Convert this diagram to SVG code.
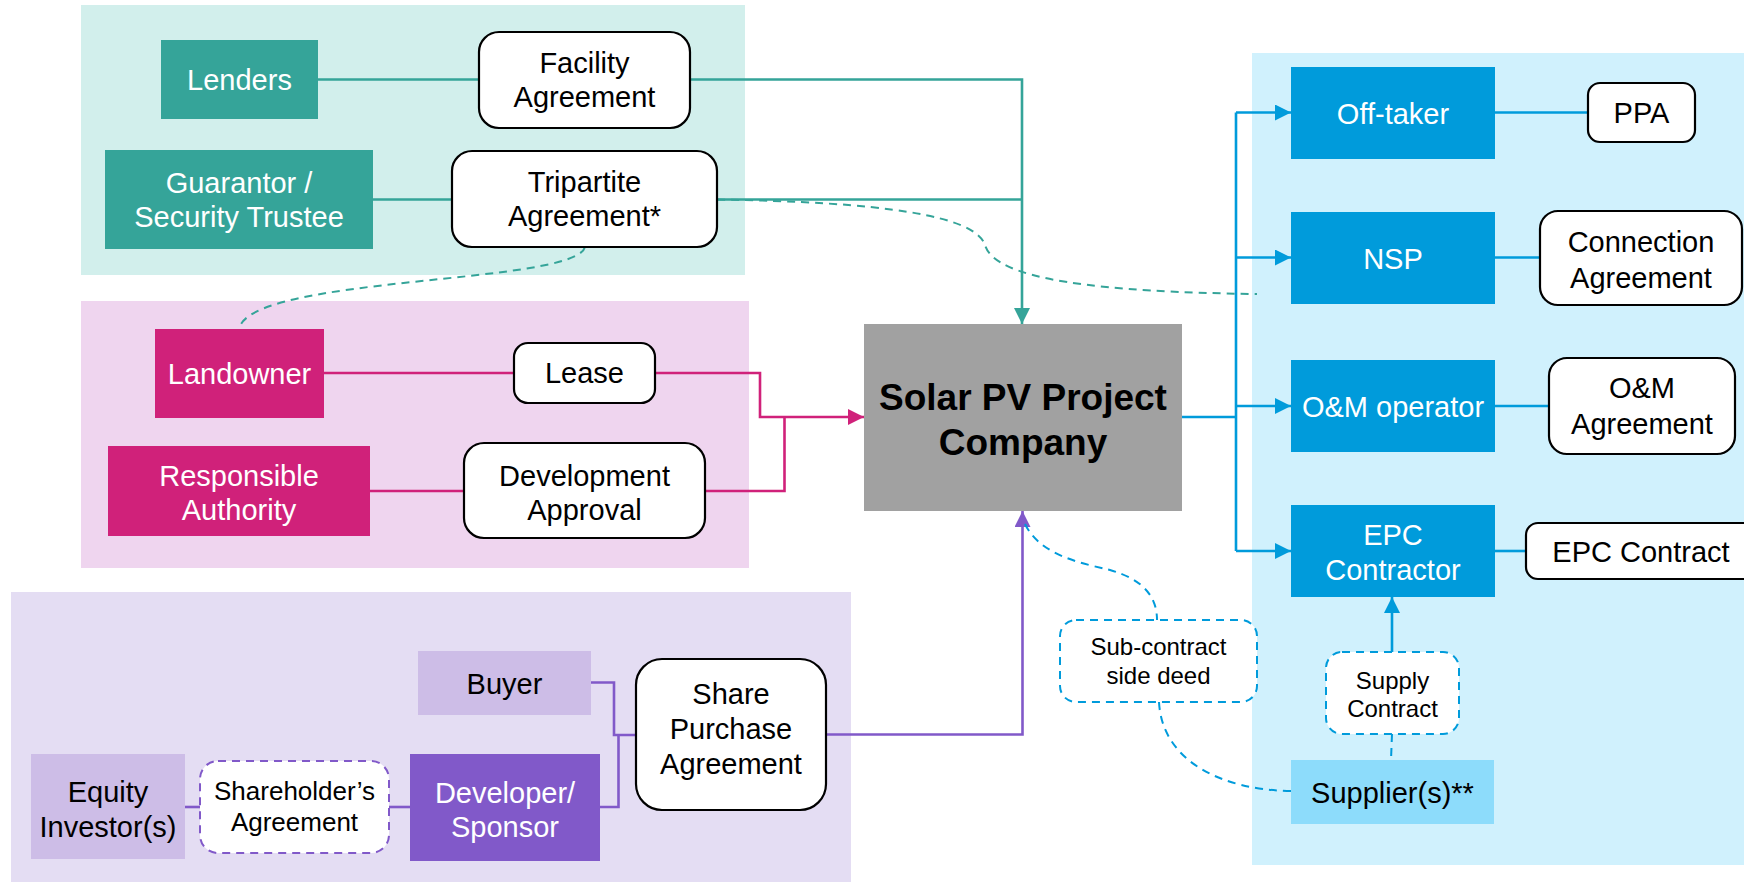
<svg xmlns="http://www.w3.org/2000/svg" width="1744" height="882" viewBox="0 0 1744 882">
<defs>
<style>
text{font-family:"Liberation Sans",Arial,sans-serif;font-size:29px;text-anchor:middle}
.w{fill:#fff}
.k{fill:#000}
.sm{font-size:24px}
.sh{font-size:26px}
.big{font-size:37px;font-weight:bold}
.agr{fill:#fff;stroke:#000;stroke-width:2.2}
.teal{fill:#35A499}
.pink{fill:#D0217A}
.dpur{fill:#8159C9}
.lpur{fill:#CDBDE7}
.blue{fill:#009BDB}
.sup{fill:#8DDCFB}
.ct{fill:none;stroke:#35A499;stroke-width:2.6}
.cp{fill:none;stroke:#D0217A;stroke-width:2.6}
.cu{fill:none;stroke:#8159C9;stroke-width:2.6}
.cb{fill:none;stroke:#009BDB;stroke-width:2.6}
.dash{stroke-dasharray:8 6;stroke-width:2}
</style>
<marker id="aT" markerUnits="userSpaceOnUse" markerWidth="16" markerHeight="16" refX="16" refY="8" orient="auto"><path d="M0,0 L16,8 L0,16 z" fill="#35A499"/></marker>
<marker id="aP" markerUnits="userSpaceOnUse" markerWidth="16" markerHeight="16" refX="16" refY="8" orient="auto"><path d="M0,0 L16,8 L0,16 z" fill="#D0217A"/></marker>
<marker id="aU" markerUnits="userSpaceOnUse" markerWidth="16" markerHeight="16" refX="16" refY="8" orient="auto"><path d="M0,0 L16,8 L0,16 z" fill="#8159C9"/></marker>
<marker id="aB" markerUnits="userSpaceOnUse" markerWidth="16" markerHeight="16" refX="16" refY="8" orient="auto"><path d="M0,0 L16,8 L0,16 z" fill="#009BDB"/></marker>
</defs>

<g id="backgrounds">
<rect x="81" y="5" width="664" height="270" fill="#D2EFEC"/>
<rect x="81" y="301" width="668" height="267" fill="#EFD5EF"/>
<rect x="11" y="592" width="840" height="290" fill="#E4DDF3"/>
<rect x="1252" y="53" width="492" height="812" fill="#D0F1FD"/>
</g>

<g id="connectors">
<path class="ct" d="M318,79.5 H479"/>
<path class="ct" d="M373,199.5 H452"/>
<path class="ct" d="M690,79.5 H1022 V324" marker-end="url(#aT)"/>
<path class="ct" d="M717,199.5 H1022"/>
<path class="ct dash" d="M585,247 C575,285 250,275 239,329"/>
<path class="ct dash" d="M717,199.5 C880,202 975,215 985,245 C995,280 1100,292 1257,294"/>
<path class="cp" d="M324,373 H514"/>
<path class="cp" d="M370,491 H464"/>
<path class="cp" d="M655,373 H760 V417 H864" marker-end="url(#aP)"/>
<path class="cp" d="M705,491 H784.5 V417"/>
<path class="cu" d="M185,807 H200"/>
<path class="cu" d="M389,807 H410"/>
<path class="cu" d="M591,682.5 H614 V735 H636"/>
<path class="cu" d="M600,807 H618.5 V735"/>
<path class="cu" d="M826,734.5 H1022.5 V511" marker-end="url(#aU)"/>
<path class="cb" d="M1182,417 H1236"/>
<path class="cb" d="M1236,551 V112.5"/>
<path class="cb" d="M1236,112.5 H1291" marker-end="url(#aB)"/>
<path class="cb" d="M1236,257.5 H1291" marker-end="url(#aB)"/>
<path class="cb" d="M1236,406 H1291" marker-end="url(#aB)"/>
<path class="cb" d="M1236,551 H1291" marker-end="url(#aB)"/>
<path class="cb" d="M1495,112.5 H1588"/>
<path class="cb" d="M1495,257.5 H1540"/>
<path class="cb" d="M1495,406 H1549"/>
<path class="cb" d="M1495,551 H1526"/>
<path class="cb" d="M1392,652 V597" marker-end="url(#aB)"/>
<path class="cb dash" d="M1392,734 L1391,760"/>
<path class="cb dash" d="M1025,524 C1040,555 1080,563 1110,570 C1145,580 1157,598 1157,620"/>
<path class="cb dash" d="M1159,702 C1162,760 1220,790 1291,791"/>
</g>

<g id="lenders"><rect class="teal" x="161" y="40" width="157" height="79"/><text class="w" x="239.5" y="90">Lenders</text></g>
<g id="facility-agreement"><rect class="agr" x="479" y="32" width="211" height="96" rx="20"/><text class="k" x="584.5" y="73">Facility</text><text class="k" x="584.5" y="107">Agreement</text></g>
<g id="guarantor"><rect class="teal" x="105" y="150" width="268" height="99"/><text class="w" x="239" y="193">Guarantor /</text><text class="w" x="239" y="227">Security Trustee</text></g>
<g id="tripartite-agreement"><rect class="agr" x="452" y="151" width="265" height="96" rx="20"/><text class="k" x="584.5" y="191.5">Tripartite</text><text class="k" x="584.5" y="226">Agreement*</text></g>

<g id="landowner"><rect class="pink" x="155" y="329" width="169" height="89"/><text class="w" x="239.5" y="384">Landowner</text></g>
<g id="lease"><rect class="agr" x="514" y="343" width="141" height="60" rx="14"/><text class="k" x="584.5" y="383">Lease</text></g>
<g id="responsible-authority"><rect class="pink" x="108" y="446" width="262" height="90"/><text class="w" x="239" y="485.5">Responsible</text><text class="w" x="239" y="520">Authority</text></g>
<g id="development-approval"><rect class="agr" x="464" y="443" width="241" height="95" rx="20"/><text class="k" x="584.5" y="485.5">Development</text><text class="k" x="584.5" y="520">Approval</text></g>

<g id="buyer"><rect class="lpur" x="418" y="651" width="173" height="64"/><text class="k" x="504.5" y="693.5">Buyer</text></g>
<g id="equity-investors"><rect class="lpur" x="31" y="754" width="154" height="105"/><text class="k" x="108" y="802">Equity</text><text class="k" x="108" y="836.5">Investor(s)</text></g>
<g id="shareholders-agreement"><rect x="200" y="761" width="189" height="92" rx="18" fill="#fff" stroke="#8159C9" stroke-width="2" stroke-dasharray="8 6"/><text class="k sh" x="294.5" y="800">Shareholder’s</text><text class="k sh" x="294.5" y="831">Agreement</text></g>
<g id="developer-sponsor"><rect class="dpur" x="410" y="754" width="190" height="107"/><text class="w" x="505" y="802.5">Developer/</text><text class="w" x="505" y="837">Sponsor</text></g>
<g id="share-purchase-agreement"><rect class="agr" x="636" y="659" width="190" height="151" rx="26"/><text class="k" x="731" y="703.5">Share</text><text class="k" x="731" y="738.5">Purchase</text><text class="k" x="731" y="773.5">Agreement</text></g>

<g id="company"><rect x="864" y="324" width="318" height="187" fill="#A1A1A1"/><text class="k big" x="1023" y="410">Solar PV Project</text><text class="k big" x="1023" y="455">Company</text></g>

<g id="off-taker"><rect class="blue" x="1291" y="67" width="204" height="92"/><text class="w" x="1393" y="123.5">Off-taker</text></g>
<g id="ppa"><rect class="agr" x="1588" y="83" width="107" height="59" rx="12"/><text class="k" x="1641.5" y="123">PPA</text></g>
<g id="nsp"><rect class="blue" x="1291" y="212" width="204" height="92"/><text class="w" x="1393" y="268.5">NSP</text></g>
<g id="connection-agreement"><rect class="agr" x="1540" y="211" width="202" height="94" rx="18"/><text class="k" x="1641" y="251.5">Connection</text><text class="k" x="1641" y="287.5">Agreement</text></g>
<g id="om-operator"><rect class="blue" x="1291" y="360" width="204" height="92"/><text class="w" x="1393" y="416.5">O&amp;M operator</text></g>
<g id="om-agreement"><rect class="agr" x="1549" y="358" width="186" height="96" rx="18"/><text class="k" x="1642" y="398">O&amp;M</text><text class="k" x="1642" y="434">Agreement</text></g>
<g id="epc-contractor"><rect class="blue" x="1291" y="505" width="204" height="92"/><text class="w" x="1393" y="545">EPC</text><text class="w" x="1393" y="580">Contractor</text></g>
<g id="epc-contract"><rect class="agr" x="1526" y="523" width="240" height="56" rx="12"/><text class="k" x="1641" y="561.5">EPC Contract</text></g>
<g id="sub-contract-side-deed"><rect x="1060" y="620" width="197" height="82" rx="16" fill="#fff" stroke="#009BDB" stroke-width="2" stroke-dasharray="8 6"/><text class="k sm" x="1158.5" y="654.5">Sub-contract</text><text class="k sm" x="1158.5" y="683.5">side deed</text></g>
<g id="supply-contract"><rect x="1326" y="652" width="133" height="82" rx="16" fill="#fff" stroke="#009BDB" stroke-width="2" stroke-dasharray="8 6"/><text class="k sm" x="1392.5" y="689">Supply</text><text class="k sm" x="1392.5" y="717">Contract</text></g>
<g id="suppliers"><rect class="sup" x="1291" y="760" width="203" height="64"/><text class="k" x="1392.5" y="802.5">Supplier(s)**</text></g>
</svg>
